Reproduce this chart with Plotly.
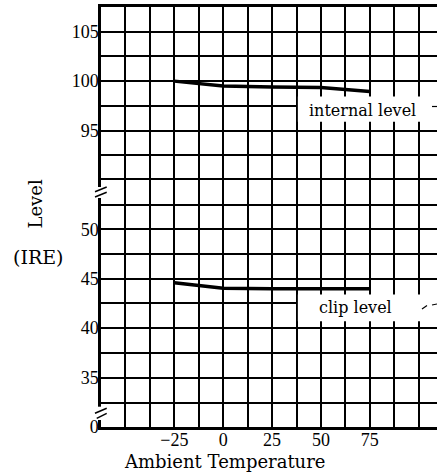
import plotly.graph_objects as go

# ---- data ----
temperature = [-25, 0, 25, 50, 75]
internal_level = [100.0, 99.5, 99.4, 99.35, 98.95]
clip_level = [44.6, 44.05, 44.0, 44.0, 44.0]

x_tickvals = [-50, -37.5, -25, -12.5, 0, 12.5, 25, 37.5, 50, 62.5, 75, 87.5, 100]
x_ticktext = ['', '', '\u221225', '', '0', '', '25', '', '50', '', '75', '', '']
top_tickvals = [90, 92.5, 95, 97.5, 100, 102.5, 105]
top_ticktext = ['', '', '95', '', '100', '', '105']
mid_tickvals = [35, 37.5, 40, 42.5, 45, 47.5, 50, 52.5]
mid_ticktext = ['35', '', '40', '', '45', '', '50', '']
bot_tickvals = [0]
bot_ticktext = ['0']

X_RANGE = [-62.5, 109.37]
TOP_RANGE = [90, 107.5]
MID_RANGE = [32.5, 55]
BOT_RANGE = [0, 2.5]

W, H = 437, 476
ML, MR, MT, MB = 101, 0, 7, 49
PW, PH = W - ML - MR, H - MT - MB

def px(xp):
    return (xp - ML) / PW

def py(yp):
    return (H - MB - yp) / PH

TICKFONT = dict(family="Liberation Serif", size=18, color="black")
TEXTFONT = "DejaVu Serif"
GRID = dict(showgrid=True, gridcolor="black", gridwidth=1.6, zeroline=False,
            ticks="", automargin=False)

fig = go.Figure()

fig.add_trace(go.Scatter(x=temperature, y=internal_level, mode="lines",
                         line=dict(color="black", width=3.5),
                         xaxis="x3", yaxis="y", showlegend=False, hoverinfo="skip"))
fig.add_trace(go.Scatter(x=temperature, y=clip_level, mode="lines",
                         line=dict(color="black", width=3.5),
                         xaxis="x2", yaxis="y2", showlegend=False, hoverinfo="skip"))
# empty trace so the bottom (0-level) strip subplot is created
fig.add_trace(go.Scatter(x=[None], y=[None], mode="lines",
                         xaxis="x", yaxis="y3", showlegend=False, hoverinfo="skip"))

fig.update_layout(
    width=W, height=H,
    margin=dict(l=ML, r=MR, t=MT, b=MB, pad=0, autoexpand=False),
    paper_bgcolor="white", plot_bgcolor="white",
    showlegend=False,
    xaxis=dict(domain=[0, 1], anchor="y3", range=X_RANGE, tickvals=x_tickvals,
               ticktext=x_ticktext, tickfont=TICKFONT, showline=True,
               ticklabelstandoff=-5,
               linecolor="black", linewidth=2.5, **GRID),
    xaxis2=dict(matches="x", anchor="y2", range=X_RANGE, tickvals=x_tickvals,
                showticklabels=False, showline=True, mirror=True,
                linecolor="black", linewidth=1.6, **GRID),
    xaxis3=dict(matches="x", anchor="y", side="top", range=X_RANGE, tickvals=x_tickvals,
                showticklabels=False, showline=True, linecolor="black",
                linewidth=3, **GRID),
    yaxis=dict(domain=[10/17, 1], anchor="x3", range=TOP_RANGE, tickvals=top_tickvals,
               ticktext=top_ticktext, tickfont=TICKFONT, showline=True,
               ticklabelstandoff=-4,
               linecolor="black", linewidth=2.5, **GRID),
    yaxis2=dict(domain=[1/17, 10/17], anchor="x2", range=MID_RANGE, tickvals=mid_tickvals,
                ticktext=mid_ticktext, tickfont=TICKFONT, showline=True,
                ticklabelstandoff=-4,
                linecolor="black", linewidth=2.5, **GRID),
    yaxis3=dict(domain=[0, 1/17], anchor="x", range=BOT_RANGE, tickvals=bot_tickvals,
                ticktext=bot_ticktext, tickfont=TICKFONT, showline=True,
                ticklabelstandoff=-4,
                linecolor="black", linewidth=2.5, **GRID),
)

shapes = []
# white boxes behind the curve labels
shapes.append(dict(type="rect", xref="x3", yref="y", x0=38.2, x1=112, y0=95.9, y1=98.45,
                   fillcolor="white", line=dict(width=0), layer="between"))
shapes.append(dict(type="rect", xref="x2", yref="y2", x0=38.2, x1=112, y0=40.7, y1=43.4,
                   fillcolor="white", line=dict(width=0), layer="between"))

# axis break marks
for (gap0, gap1, s1, s2) in [
    (187, 198, ((95, 191.7), (106.7, 187.0)), ((95, 197.0), (106.7, 192.3))),
    (406.7, 420, ((95, 413.3), (106.7, 408.3)), ((96.7, 418.3), (106.7, 413.3))),
]:
    shapes.append(dict(type="rect", xref="paper", yref="paper",
                       x0=px(98), x1=px(104), y0=py(gap1), y1=py(gap0),
                       fillcolor="white", line=dict(width=0), layer="above"))
    for (a, b) in (s1, s2):
        shapes.append(dict(type="line", xref="paper", yref="paper",
                           x0=px(a[0]), y0=py(a[1]), x1=px(b[0]), y1=py(b[1]),
                           line=dict(color="black", width=1.5), layer="above"))

# small leader fragments at right edge
shapes.append(dict(type="line", xref="paper", yref="paper",
                   x0=px(432), y0=py(106.5), x1=px(437), y1=py(106.5),
                   line=dict(color="black", width=1.2), layer="above"))
shapes.append(dict(type="line", xref="paper", yref="paper",
                   x0=px(422), y0=py(309), x1=px(427), y1=py(305.5),
                   line=dict(color="black", width=1.2), layer="above"))
shapes.append(dict(type="line", xref="paper", yref="paper",
                   x0=px(432), y0=py(305), x1=px(437), y1=py(304),
                   line=dict(color="black", width=1.2), layer="above"))
fig.update_layout(shapes=shapes)

annotations = [
    dict(text="internal level", xref="x3", yref="y", x=71.2, y=97.05,
         showarrow=False, xanchor="center", yanchor="middle",
         font=dict(family=TEXTFONT, size=16, color="black")),
    dict(text="clip level", xref="x2", yref="y2", x=67.9, y=42.1,
         showarrow=False, xanchor="center", yanchor="middle",
         font=dict(family=TEXTFONT, size=16, color="black")),
    dict(text="Ambient Temperature", xref="paper", yref="paper", x=px(224), y=py(461),
         showarrow=False, xanchor="center", yanchor="middle",
         font=dict(family=TEXTFONT, size=18, color="black")),
    dict(text="Level", xref="paper", yref="paper", x=px(35), y=py(204.5), textangle=-90,
         showarrow=False, xanchor="center", yanchor="middle",
         font=dict(family=TEXTFONT, size=18, color="black")),
    dict(text="(IRE)", xref="paper", yref="paper", x=px(38), y=py(257),
         showarrow=False, xanchor="center", yanchor="middle",
         font=dict(family=TEXTFONT, size=19, color="black")),
]
fig.update_layout(annotations=annotations)

fig.write_html("out.html", config={"displayModeBar": False},
               post_script="document.body.style.margin='0';document.body.style.overflow='hidden';")
